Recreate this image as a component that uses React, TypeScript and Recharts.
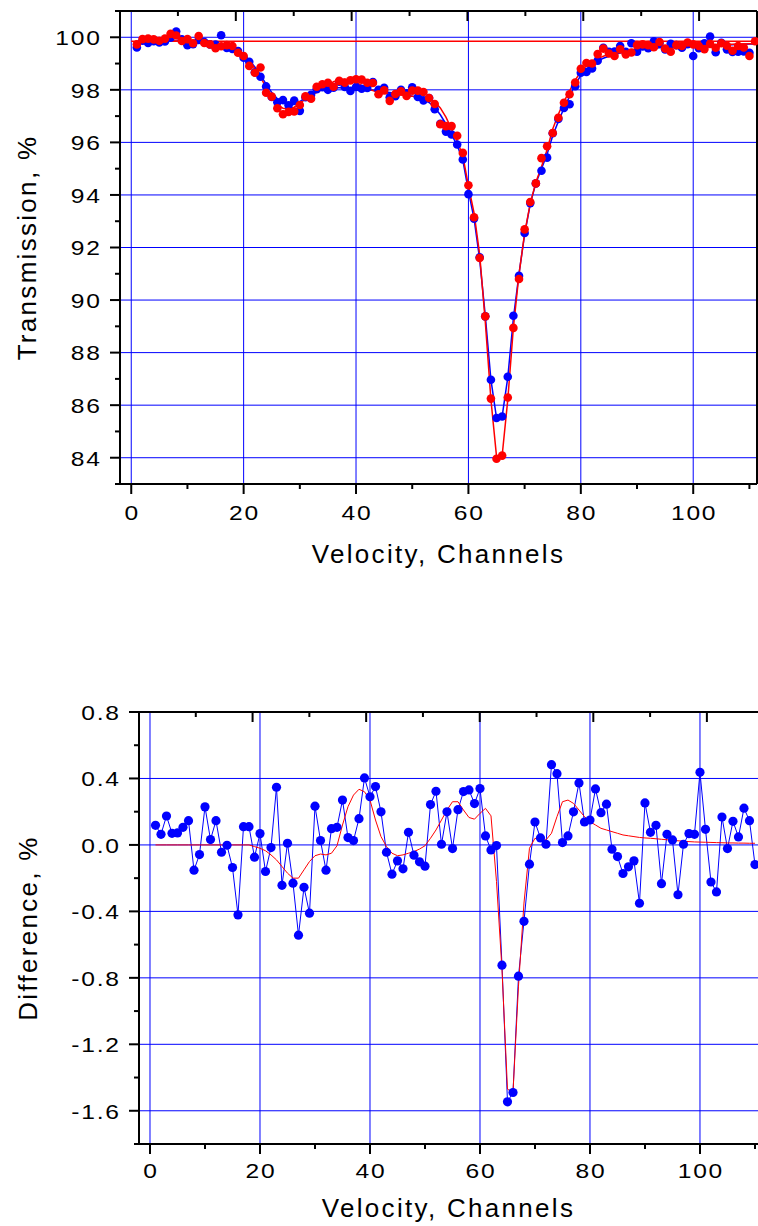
import {
  CartesianGrid,
  ComposedChart,
  Label,
  Line,
  ReferenceLine,
  XAxis,
  YAxis,
} from 'recharts';

const channels = [
  1, 2, 3, 4, 5, 6, 7, 8, 9, 10, 11, 12, 13, 14, 15, 16, 17, 18, 19, 20,
  21, 22, 23, 24, 25, 26, 27, 28, 29, 30, 31, 32, 33, 34, 35, 36, 37, 38, 39, 40,
  41, 42, 43, 44, 45, 46, 47, 48, 49, 50, 51, 52, 53, 54, 55, 56, 57, 58, 59, 60,
  61, 62, 63, 64, 65, 66, 67, 68, 69, 70, 71, 72, 73, 74, 75, 76, 77, 78, 79, 80,
  81, 82, 83, 84, 85, 86, 87, 88, 89, 90, 91, 92, 93, 94, 95, 96, 97, 98, 99, 100,
  101, 102, 103, 104, 105, 106, 107, 108, 109, 110, 111,
];

// top panel: transmission of the two spectra (dots) and their fits (lines)
const transBlue = [
  99.61, 99.87, 99.78, 99.85, 99.8, 99.84, 99.98, 100.22, 99.92, 99.7,
  99.74, 99.9, 99.82, 99.73, 99.72, 100.08, 99.59, 99.56, 99.48, 99.22,
  99.07, 98.67, 98.5, 98.13, 97.73, 97.53, 97.61, 97.41, 97.59, 97.2,
  97.72, 97.81, 98.02, 98.1, 98.0, 98.08, 98.31, 98.11, 97.96, 98.11,
  98.04, 98.07, 98.3, 98.0, 98.08, 97.72, 97.76, 98.0, 97.87, 98.1,
  97.73, 97.6, 97.69, 97.26, 96.71, 96.41, 96.3, 95.92, 95.35, 94.03,
  93.1, 91.63, 89.38, 86.97, 85.51, 85.57, 87.08, 89.4, 90.92, 92.55,
  93.69, 94.44, 94.92, 95.42, 96.35, 96.89, 97.31, 97.45, 98.14, 98.65,
  98.68, 98.81, 99.11, 99.6, 99.45, 99.46, 99.67, 99.45, 99.77, 99.45,
  99.65, 99.58, 99.85, 99.76, 99.54, 99.75, 99.7, 99.6, 99.74, 99.29,
  99.58, 99.77, 100.03, 99.43, 99.79, 99.54, 99.44, 99.45, 99.46, 99.41,
  null,
];
const transRed = [
  99.73, 99.93, 99.95, 99.92, 99.87, 99.95, 100.13, 100.07, 99.86, 99.93,
  99.77, 100.05, 99.78, 99.73, 99.58, 99.66, 99.7, 99.67, 99.41, 99.29,
  98.91, 98.65, 98.85, 97.89, 97.74, 97.3, 97.07, 97.16, 97.18, 97.42,
  97.75, 97.66, 98.12, 98.21, 98.27, 98.12, 98.34, 98.27, 98.36, 98.4,
  98.39, 98.27, 98.26, 97.83, 97.98, 97.58, 97.84, 97.94, 97.77, 97.97,
  97.97, 97.92, 97.69, 97.46, 96.69, 96.62, 96.62, 96.25, 95.6, 94.37,
  93.15, 91.6, 89.38, 86.25, 83.96, 84.08, 86.29, 88.94, 90.8, 92.69,
  93.73, 94.44, 95.4, 95.85, 96.36, 96.94, 97.51, 97.83, 98.28, 98.8,
  99.02, 99.0, 99.36, 99.57, 99.38, 99.29, 99.54, 99.35, 99.42, 99.7,
  99.73, 99.7, 99.62, 99.82, 99.57, 99.45, 99.7, 99.67, 99.8, 99.73,
  99.67, 99.55, 99.75, 99.6, 99.77, 99.68, 99.49, 99.67, 99.61, 99.29,
  99.85,
];
const fitBlue = [
  99.8, 99.83, 99.85, 99.86, 99.86, 99.86, 99.86, 99.86, 99.85, 99.85,
  99.84, 99.82, 99.8, 99.77, 99.72, 99.66, 99.6, 99.52, 99.42, 99.3,
  99.12, 98.87, 98.57, 98.22, 97.9, 97.66, 97.5, 97.42, 97.44, 97.55,
  97.7, 97.84, 97.95, 98.02, 98.06, 98.08, 98.08, 98.07, 98.05, 98.03,
  98.01, 98.0, 97.98, 97.96, 97.93, 97.9, 97.87, 97.84, 97.8, 97.76,
  97.7, 97.62, 97.52, 97.33, 97.05, 96.7, 96.3, 95.88, 95.33, 94.15,
  93.1, 91.55, 89.4, 86.97, 85.52, 85.57, 87.05, 89.3, 91.0, 92.5,
  93.65, 94.45, 95.0, 95.55, 96.25, 96.8, 97.3, 97.75, 98.2, 98.55,
  98.8, 98.97, 99.1, 99.2, 99.28, 99.34, 99.4, 99.44, 99.48, 99.51,
  99.54, 99.56, 99.58, 99.6, 99.62, 99.63, 99.64, 99.65, 99.66, 99.67,
  99.68, 99.69, 99.7, 99.7, 99.71, 99.72, 99.72, 99.73, 99.73, 99.74,
  99.74,
];
const fitRed = [
  99.8, 99.83, 99.85, 99.86, 99.86, 99.86, 99.86, 99.86, 99.85, 99.85,
  99.84, 99.82, 99.8, 99.77, 99.72, 99.66, 99.6, 99.52, 99.41, 99.28,
  99.09, 98.81, 98.48, 98.09, 97.73, 97.46, 97.3, 97.27, 97.34, 97.49,
  97.65, 97.78, 97.9, 98.02, 98.18, 98.31, 98.38, 98.41, 98.37, 98.3,
  98.16, 98.05, 97.97, 97.91, 97.87, 97.84, 97.82, 97.8, 97.78, 97.76,
  97.74, 97.71, 97.67, 97.54, 97.31, 96.96, 96.51, 96.05, 95.49, 94.34,
  93.32, 91.73, 89.18, 86.22, 84.05, 84.08, 86.2, 88.95, 90.98, 92.54,
  93.68, 94.48, 95.07, 95.72, 96.51, 97.07, 97.55, 97.96, 98.37, 98.69,
  98.92, 99.07, 99.19, 99.28, 99.35, 99.4, 99.46, 99.49, 99.53, 99.55,
  99.58, 99.6, 99.61, 99.63, 99.65, 99.66, 99.66, 99.67, 99.68, 99.69,
  99.7, 99.7, 99.71, 99.71, 99.72, 99.73, 99.73, 99.74, 99.74, 99.75,
  99.75,
];
const redBaseline = 99.85;

// bottom panel: red minus blue (dots) and the difference of the fits
const diffPoints = [
  0.118, 0.064, 0.174, 0.07, 0.072, 0.106, 0.146, -0.152, -0.058, 0.229,
  0.032, 0.146, -0.044, -0.002, -0.136, -0.421, 0.11, 0.11, -0.074, 0.068,
  -0.16, -0.016, 0.347, -0.243, 0.01, -0.23, -0.543, -0.255, -0.411, 0.233,
  0.026, -0.152, 0.098, 0.106, 0.27, 0.044, 0.026, 0.158, 0.403, 0.29,
  0.351, 0.199, -0.044, -0.176, -0.096, -0.144, 0.076, -0.062, -0.102, -0.128,
  0.243, 0.323, 0.004, 0.199, -0.022, 0.212, 0.321, 0.331, 0.249, 0.339,
  0.054, -0.03, -0.004, -0.724, -1.546, -1.49, -0.79, -0.46, -0.116, 0.138,
  0.042, 0.004, 0.483, 0.429, 0.014, 0.054, 0.199, 0.373, 0.138, 0.15,
  0.337, 0.194, 0.245, -0.026, -0.07, -0.172, -0.132, -0.096, -0.351, 0.253,
  0.076, 0.118, -0.233, 0.064, 0.03, -0.3, 0.004, 0.068, 0.064, 0.437,
  0.094, -0.223, -0.283, 0.168, -0.022, 0.142, 0.048, 0.221, 0.146, -0.118,
];
const diffFit = [
  0, 0, 0, 0, 0, 0, 0, 0, 0, 0,
  0, 0, 0, 0, 0, 0, 0, 0, -0.01, -0.02,
  -0.035, -0.06, -0.09, -0.13, -0.17, -0.2, -0.2, -0.15, -0.1, -0.065,
  -0.055, -0.06, -0.05, -0.005, 0.12, 0.23, 0.3, 0.335, 0.32, 0.27,
  0.15, 0.05, -0.01, -0.05, -0.065, -0.06, -0.05, -0.04, -0.025, -0.005,
  0.04, 0.09, 0.15, 0.21, 0.26, 0.26, 0.21, 0.165, 0.155, 0.19,
  0.22, 0.175, -0.22, -0.75, -1.47, -1.49, -0.85, -0.35, -0.02, 0.04,
  0.03, 0.03, 0.07, 0.17, 0.26, 0.27, 0.25, 0.21, 0.17, 0.14,
  0.12, 0.1, 0.09, 0.08, 0.07, 0.06, 0.055, 0.05, 0.045, 0.042,
  0.04, 0.037, 0.034, 0.031, 0.028, 0.025, 0.022, 0.02, 0.018, 0.017,
  0.016, 0.015, 0.014, 0.013, 0.012, 0.012, 0.011, 0.011, 0.01, 0.01,
];

const xTicks = [0, 10, 20, 30, 40, 50, 60, 70, 80, 90, 100, 110];
const xMajors = [0, 20, 40, 60, 80, 100];
const transTicks = [83, 84, 85, 86, 87, 88, 89, 90, 91, 92, 93, 94, 95, 96, 97, 98, 99, 100, 101];
const transMajors = [84, 86, 88, 90, 92, 94, 96, 98, 100];
const diffTicks = [-1.8, -1.6, -1.4, -1.2, -1, -0.8, -0.6, -0.4, -0.2, 0, 0.2, 0.4, 0.6, 0.8];
const diffMajors = [-1.6, -1.2, -0.8, -0.4, 0, 0.4, 0.8];

const topData = channels.map((ch, i) => ({
  ch,
  blue: transBlue[i],
  red: transRed[i],
  fitBlue: fitBlue[i],
  fitRed: fitRed[i],
}));
const bottomData = diffPoints.map((d, i) => ({ ch: channels[i], diff: d, fit: diffFit[i] }));

const BLUE = '#0000ff';
const RED = '#ff0000';
const FONT = '"Liberation Sans", Arial, sans-serif';
const TICK_FS = 20.5;
const TICK_LS = 1.5;
const TICK_SX = 1.2; // the original lettering is a horizontally stretched sans
const AXIS_LINE = { stroke: '#000', strokeWidth: 2 };

const topX: [number, number] = [-2, 111.35];
const bottomX: [number, number] = [-2, 110.55];

type Side = 'left' | 'right' | 'top' | 'bottom';

// ticks: long for majors, short for minors, labels only on majors
function makeTick(side: Side, majors: number[], fmt: ((v: number) => string) | null, labelOffset = 0) {
  return (props: any) => {
    const { x, y, payload } = props;
    const v = Number(payload.value);
    const major = majors.some((m) => Math.abs(m - v) < 1e-6);
    const len = major ? 10 : 5;
    const vertical = side === 'left' || side === 'right';
    const textStyle = { fontFamily: FONT, fontSize: TICK_FS, letterSpacing: `${TICK_LS}px` };
    const trail = TICK_LS * TICK_SX;
    return (
      <g>
        {vertical ? (
          <line x1={x - len} y1={y} x2={x} y2={y} stroke="#000" strokeWidth={2} />
        ) : (
          <line x1={x} y1={y} x2={x} y2={y + len} stroke="#000" strokeWidth={2} />
        )}
        {major && fmt && side === 'left' && (
          <text
            transform={`translate(${x - labelOffset + trail} ${y}) scale(${TICK_SX} 1)`}
            dy="0.38em"
            textAnchor="end"
            fill="#000"
            style={textStyle}
          >
            {fmt(v)}
          </text>
        )}
        {major && fmt && side === 'bottom' && (
          <text
            transform={`translate(${x + trail / 2} ${y + labelOffset}) scale(${TICK_SX} 1)`}
            textAnchor="middle"
            fill="#000"
            style={textStyle}
          >
            {fmt(v)}
          </text>
        )}
      </g>
    );
  };
}

const titleStyle = { fontFamily: FONT, fontSize: 26, letterSpacing: '2.3px' };

function xTitle(offset: number) {
  return (props: any) => {
    const vb = props.viewBox || {};
    return (
      <text x={vb.x + vb.width / 2} y={vb.y + offset} textAnchor="middle" fill="#000" style={titleStyle}>
        Velocity, Channels
      </text>
    );
  };
}

function yTitle(text: string, cx: number) {
  return (props: any) => {
    const vb = props.viewBox || {};
    const cy = vb.y + vb.height / 2;
    return (
      <text
        x={cx}
        y={cy}
        transform={`rotate(-90 ${cx} ${cy})`}
        textAnchor="middle"
        dominantBaseline="central"
        fill="#000"
        style={titleStyle}
      >
        {text}
      </text>
    );
  };
}

const intFmt = (v: number) => String(Math.round(v));
const oneDec = (v: number) => v.toFixed(1);

export default function App() {
  return (
    <div style={{ position: 'absolute', left: 0, top: 0, width: 758, height: 1226, overflow: 'hidden', background: '#fff' }}>
      <div style={{ position: 'absolute', left: 0, top: 0 }}>
        <ComposedChart width={758} height={600} data={topData} margin={{ top: 11, right: 1, bottom: 0, left: 0 }}>
          <CartesianGrid stroke={BLUE} strokeWidth={1} horizontalValues={transMajors} verticalValues={xMajors} />
          <XAxis
            type="number"
            dataKey="ch"
            domain={topX}
            ticks={xTicks}
            interval={0}
            height={116}
            tickSize={0}
            tickMargin={0}
            tickLine={false}
            axisLine={AXIS_LINE}
            tick={makeTick('bottom', xMajors, intFmt, 36)}
          >
            <Label content={xTitle(79)} />
          </XAxis>
          <XAxis
            xAxisId="top"
            orientation="top"
            mirror
            type="number"
            domain={topX}
            ticks={xTicks}
            interval={0}
            tickSize={0}
            tickMargin={0}
            tickLine={false}
            axisLine={AXIS_LINE}
            tick={makeTick('top', xMajors, null)}
          />
          <YAxis
            type="number"
            domain={[83, 101]}
            ticks={transTicks}
            interval={0}
            width={120}
            tickSize={0}
            tickMargin={0}
            tickLine={false}
            axisLine={AXIS_LINE}
            tick={makeTick('left', transMajors, intFmt, 20)}
          >
            <Label content={yTitle('Transmission, %', 27)} />
          </YAxis>
          <YAxis
            yAxisId="right"
            orientation="right"
            mirror
            type="number"
            domain={[83, 101]}
            ticks={transTicks}
            interval={0}
            tickSize={0}
            tickMargin={0}
            tickLine={false}
            axisLine={AXIS_LINE}
            tick={makeTick('right', transMajors, null)}
          />
          <Line
            dataKey="blue"
            stroke="none"
            dot={{ r: 4.3, fill: BLUE, stroke: BLUE, strokeWidth: 0 }}
            isAnimationActive={false}
          />
          <Line dataKey="fitBlue" stroke={BLUE} strokeWidth={1.5} dot={false} isAnimationActive={false} />
          <ReferenceLine
            segment={[
              { x: 0, y: redBaseline },
              { x: topX[1], y: redBaseline },
            ]}
            stroke={RED}
            strokeWidth={1.5}
          />
          <Line dataKey="fitRed" stroke={RED} strokeWidth={1.5} dot={false} isAnimationActive={false} />
          <Line
            dataKey="red"
            stroke="none"
            dot={{ r: 4.3, fill: RED, stroke: RED, strokeWidth: 0 }}
            isAnimationActive={false}
          />
        </ComposedChart>
      </div>
      <div style={{ position: 'absolute', left: 0, top: 600 }}>
        <ComposedChart width={758} height={626} data={bottomData} margin={{ top: 112, right: 0, bottom: 0, left: 0 }}>
          <CartesianGrid stroke={BLUE} strokeWidth={1} horizontalValues={diffMajors} verticalValues={xMajors} />
          <XAxis
            type="number"
            dataKey="ch"
            domain={bottomX}
            ticks={xTicks}
            interval={0}
            height={82}
            tickSize={0}
            tickMargin={0}
            tickLine={false}
            axisLine={AXIS_LINE}
            tick={makeTick('bottom', xMajors, intFmt, 34)}
          >
            <Label content={xTitle(73)} />
          </XAxis>
          <XAxis
            xAxisId="top"
            orientation="top"
            mirror
            type="number"
            domain={bottomX}
            ticks={xTicks}
            interval={0}
            tickSize={0}
            tickMargin={0}
            tickLine={false}
            axisLine={AXIS_LINE}
            tick={makeTick('top', xMajors, null)}
          />
          <YAxis
            type="number"
            domain={[-1.8, 0.8]}
            ticks={diffTicks}
            interval={0}
            width={139}
            tickSize={0}
            tickMargin={0}
            tickLine={false}
            axisLine={AXIS_LINE}
            tick={makeTick('left', diffMajors, oneDec, 20)}
          >
            <Label content={yTitle('Difference, %', 28)} />
          </YAxis>
          <Line
            dataKey="diff"
            stroke={BLUE}
            strokeWidth={1}
            dot={{ r: 4.6, fill: BLUE, stroke: BLUE, strokeWidth: 0 }}
            isAnimationActive={false}
          />
          <Line dataKey="fit" stroke={RED} strokeWidth={1} dot={false} isAnimationActive={false} />
        </ComposedChart>
      </div>
    </div>
  );
}
